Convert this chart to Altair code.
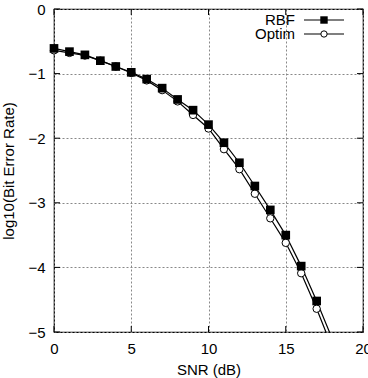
import altair as alt
import pandas as pd

# SNR sweep and measured log10(BER) for the two receivers
snr = list(range(0, 19))
rbf = [-0.61, -0.66, -0.71, -0.80, -0.89, -0.98, -1.085, -1.225, -1.40, -1.566,
       -1.79, -2.07, -2.38, -2.74, -3.11, -3.50, -3.98, -4.52, -5.10]
optim = [-0.64, -0.68, -0.72, -0.80, -0.89, -0.99, -1.105, -1.256, -1.43, -1.64,
         -1.85, -2.17, -2.48, -2.86, -3.24, -3.62, -4.09, -4.64, -5.24]

x_ticks = [0, 5, 10, 15, 20]
y_ticks = [-5, -4, -3, -2, -1, 0]

FONT = "Liberation Sans"
FS = 15
W, H = 309, 323

df = pd.DataFrame({
    "snr": snr * 2,
    "ber": rbf + optim,
    "series": ["RBF"] * len(snr) + ["Optim"] * len(snr),
})

xs = alt.Scale(domain=[0, 20], nice=False)
ys = alt.Scale(domain=[-5, 0], nice=False)

common = dict(grid=True, gridDash=[2, 2], gridColor="#888888", gridOpacity=1,
              tickSize=0, labelPadding=9, labelFontSize=FS, titleFontSize=FS,
              titleFontWeight="normal", labelFont=FONT, titleFont=FONT,
              labelColor="black", titleColor="black", domain=False,
              labelFlush=False, format="d")
x_axis = alt.Axis(values=x_ticks, title="SNR (dB)", titlePadding=6, **common)
y_axis = alt.Axis(values=y_ticks, title="log10(Bit Error Rate)", titlePadding=11, **common)

base = alt.Chart(df)
X = alt.X("snr:Q", scale=xs)
Y = alt.Y("ber:Q", scale=ys)

rbf_line = base.transform_filter(alt.datum.series == "RBF").mark_line(
    color="black", strokeWidth=1.2, clip=True
).encode(x=alt.X("snr:Q", scale=xs, axis=x_axis), y=alt.Y("ber:Q", scale=ys, axis=y_axis))

opt_line = base.transform_filter(alt.datum.series == "Optim").mark_line(
    color="black", strokeWidth=1.2, clip=True
).encode(x=X, y=Y)

# markers are drawn only for samples inside the plotted range
opt_pts = base.transform_filter(
    (alt.datum.series == "Optim") & (alt.datum.ber >= -5)
).mark_point(
    shape="circle", size=55, filled=True, fill="white", stroke="black", strokeWidth=1, opacity=1
).encode(x=X, y=Y)

rbf_pts = base.transform_filter(
    (alt.datum.series == "RBF") & (alt.datum.ber >= -5)
).mark_point(
    shape="square", size=75, filled=True, color="black", opacity=1
).encode(x=X, y=Y)

# inward tick marks on all four sides
xt = pd.DataFrame({"v": x_ticks})
yt = pd.DataFrame({"v": y_ticks})
tick_b = alt.Chart(xt).mark_rule(color="black").encode(
    x=alt.X("v:Q", scale=xs), y=alt.value(H), y2=alt.value(H - 6))
tick_t = alt.Chart(xt).mark_rule(color="black").encode(
    x=alt.X("v:Q", scale=xs), y=alt.value(0), y2=alt.value(6))
tick_l = alt.Chart(yt).mark_rule(color="black").encode(
    y=alt.Y("v:Q", scale=ys), x=alt.value(0), x2=alt.value(6))
tick_r = alt.Chart(yt).mark_rule(color="black").encode(
    y=alt.Y("v:Q", scale=ys), x=alt.value(W), x2=alt.value(W - 6))

# legend, gnuplot style: label then sample line with marker
leg = pd.DataFrame({"name": ["RBF", "Optim"], "yy": [11, 25]})
leg_text = alt.Chart(leg).mark_text(align="right", baseline="middle", font=FONT,
                                    fontSize=FS, color="black").encode(
    text="name:N", x=alt.value(241), y=alt.Y("yy:Q", scale=None))
leg_line = alt.Chart(leg).mark_rule(color="black", strokeWidth=1.2).encode(
    x=alt.value(250), x2=alt.value(290), y=alt.Y("yy:Q", scale=None))
leg_sq = alt.Chart(leg).transform_filter(alt.datum.name == "RBF").mark_point(
    shape="square", size=55, filled=True, color="black", opacity=1).encode(
    x=alt.value(270), y=alt.Y("yy:Q", scale=None))
leg_ci = alt.Chart(leg).transform_filter(alt.datum.name == "Optim").mark_point(
    shape="circle", size=40, filled=True, fill="white", stroke="black", strokeWidth=1, opacity=1).encode(
    x=alt.value(270), y=alt.Y("yy:Q", scale=None))

chart = alt.layer(
    rbf_line, opt_line, opt_pts, rbf_pts, tick_b, tick_t, tick_l, tick_r,
    leg_line, leg_sq, leg_ci, leg_text
).properties(
    width=W, height=H,
    padding={"left": 54, "top": 9, "right": 5, "bottom": 46},
    autosize=alt.AutoSizeParams(type="none"),
    background="white",
).configure_view(stroke="black", strokeWidth=1.2)

chart.save("out.html", embed_options={"renderer": "svg", "actions": False})
